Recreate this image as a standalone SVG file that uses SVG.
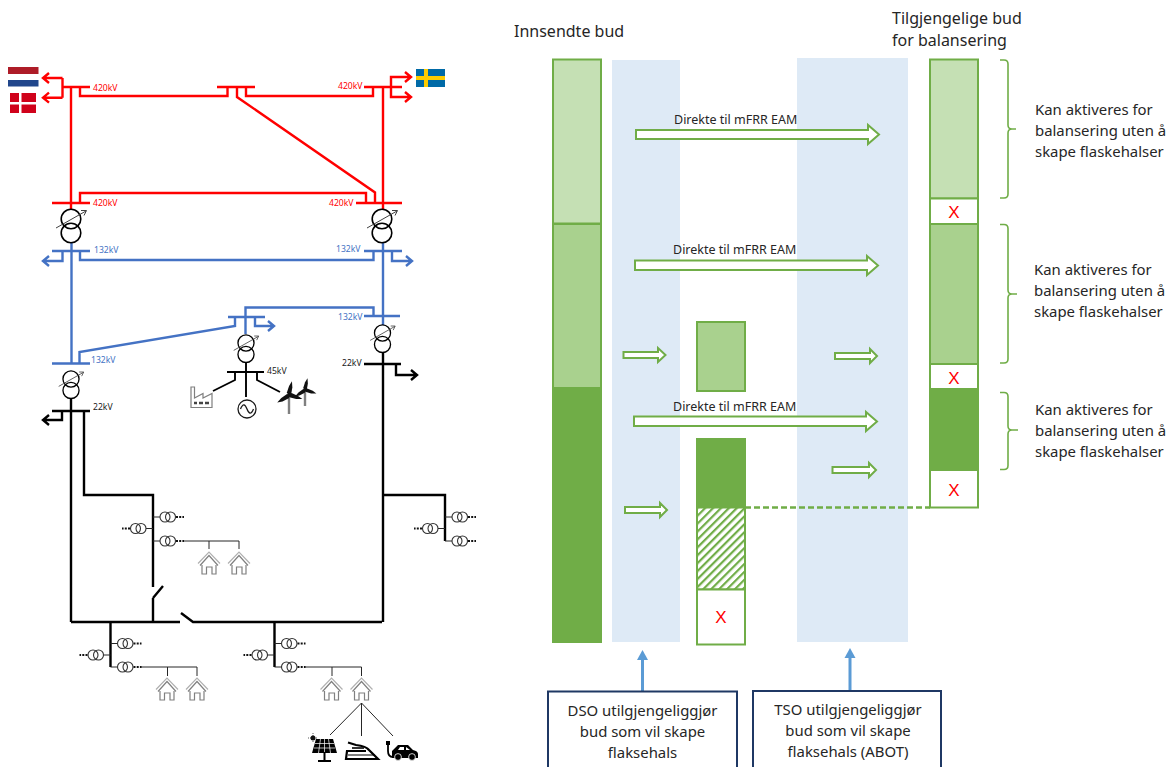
<svg xmlns="http://www.w3.org/2000/svg" width="1173" height="767" viewBox="0 0 1173 767">
<style>
text{font-family:"Noto Sans","Open Sans","Liberation Sans",sans-serif}
.wire{fill:none;stroke-width:2.4;stroke-linejoin:miter}
.red{stroke:#ff0000}.blue{stroke:#4472c4}.blk{stroke:#000}
.thin{fill:none;stroke:#262626;stroke-width:1}
.kv{font-size:8.6px}
.kr{fill:#ff0000}.kb{fill:#4472c4}.kk{fill:#1a1a1a}
.t{font-size:14.9px;fill:#262626}
.h{font-size:16px;fill:#262626}
.d{font-size:12.5px;fill:#262626}
.x{font-size:17px;fill:#ff0000;text-anchor:middle;font-family:"Liberation Sans",sans-serif}
.bar{stroke:#70ad47;stroke-width:2}
.ar{fill:#fff;stroke:#70ad47;stroke-width:2}
.band{fill:#deeaf6}
.box{fill:#fff;stroke:#1f3864;stroke-width:2}
.c{text-anchor:middle}
.up{fill:none;stroke:#5b9bd5;stroke-width:3}
.br{fill:none;stroke:#70ad47;stroke-width:1.6}
</style>
<defs>
<pattern id="hatch" width="5.600" height="5.600" patternUnits="userSpaceOnUse" patternTransform="rotate(45)">
<rect width="5.600" height="5.600" fill="#fff"/><rect width="2.200" height="5.600" fill="#70ad47"/>
</pattern>
<g id="xf" fill="none" stroke="#000" stroke-width="1.6">
<circle cx="0" cy="0" r="9.800"/><circle cx="0" cy="14" r="9.800"/>
<path d="M-15,9 L15,-8 M10,-8.500 L15.500,-8.500 L13,-3.500" stroke="#404040" stroke-width="1"/>
</g>
<g id="dt" fill="none">
<path d="M0,0H7" stroke="#262626" stroke-width="1"/>
<circle cx="12" cy="0" r="5" stroke="#333" stroke-width="1.100"/>
<circle cx="17.500" cy="0" r="5" stroke="#333" stroke-width="1.100"/>
<path d="M23,0H31" stroke="#111" stroke-width="1.800" stroke-dasharray="2 1.200"/>
</g>
<g id="house" fill="none" stroke-linejoin="miter">
<path d="M-11,0.500 L0,-11 L11,0.500" stroke="#b0b0b0" stroke-width="1.200"/>
<path d="M-9,2.500 L0,-7.500 L9,2.500" stroke="#808080" stroke-width="1.200"/>
<path d="M-7,2 V11 H-2.500 V4 H3 V11 H7 V2" stroke="#808080" stroke-width="1.200"/>
</g>
<g id="blade" fill="#111"><path d="M0,1 L-2.500,-2 L-1.500,-9 L0.500,-14 L2,-8 L2,-1Z"/></g>
</defs>
<rect width="1173" height="767" fill="#fff"/>

<g id="band-dso"><rect class="band" x="612" y="60" width="68" height="582"/></g>
<g id="band-tso"><rect class="band" x="797" y="58" width="111" height="584"/></g>

<g id="connectors">
<path class="wire red" d="M62.500,87H90M62.500,78V97.700M62.500,78H44M62.500,97.700H44M49,73L43,78L49,83M49,92.700L43,97.700L49,102.700"/>
<path class="wire red" d="M71,87V203M80,87V96H227.500V87M217,87H255M237,87V97L375,192.500V203M246,87V96H373V87"/>
<path class="wire red" d="M364,87H402M391,87V77H411M391,87V97H411M405,72L411,77L405,82M405,92L411,97L405,102M383,87V203"/>
<path class="wire red" d="M52,203H90M80,203V193H366V203M356,203H402M71,203V209M383,203V209"/>
<path class="wire blue" d="M52,251H90M71.500,243V363.500M62.500,251V261H44M49,256L43,261L49,266M80,251V260H373.500V251M364,251H402M383,243V325M392,251V261H411M406,256L412,261L406,266"/>
<path class="wire blue" d="M364,316H400M373.500,316V307.500H245.500V334M228,317H265M255,317V326H273M268,321L274,326L268,331M235,317V326L79.500,352V363.500M52,363.500H90"/>
<path class="wire blk" d="M52,411H90M71,399V622M62,411V420H44M49,415L43,420L49,425M84,411V495H153V587M153,598L163,586M153,598V622"/>
<path class="wire blk" d="M364,364H401M383,352V622M396,364V375H417M411,370L417,375L411,380"/>
<path class="wire blk" style="stroke-width:1.900" d="M227,372H264M246,362V397M235,372V380L213,391M257,372V380L280,392"/>
<path class="wire blk" d="M71,622H180M181,613L193,622H382M382,495H445V541"/>
<path class="wire blk" d="M110.500,622V667M274.500,622V667"/>
<path class="thin" d="M184,541H239V549M209,541V549M141,667H197V676M167.500,667V676M305,667H361.500V676M332,667V676"/>
<path class="thin" d="M330,735L361.500,703L393,736M361.500,703V736"/>
<path class="up" d="M642.500,691V658"/><path d="M642.500,650L637,660H648Z" fill="#5b9bd5"/>
<path class="up" d="M850,691V656"/><path d="M850,648L844.500,658H855.500Z" fill="#5b9bd5"/>
</g>

<g id="grid-transformers">
<use href="#xf" transform="translate(71,219)"/>
<use href="#xf" transform="translate(382,219)"/>
<use href="#xf" transform="translate(71,379) scale(.82)"/>
<use href="#xf" transform="translate(246,343) scale(.82)"/>
<use href="#xf" transform="translate(382.500,333) scale(.82)"/>
</g>

<g id="distribution-transformers">
<use href="#dt" x="153" y="517"/><use href="#dt" transform="translate(153,528.500) scale(-1,1)"/><use href="#dt" x="153" y="541"/>
<use href="#dt" x="445" y="517"/><use href="#dt" transform="translate(445,528.500) scale(-1,1)"/><use href="#dt" x="445" y="541"/>
<use href="#dt" x="110.500" y="643.500"/><use href="#dt" transform="translate(110.500,655) scale(-1,1)"/><use href="#dt" x="110.500" y="667"/>
<use href="#dt" x="274.500" y="643.500"/><use href="#dt" transform="translate(274.500,655) scale(-1,1)"/><use href="#dt" x="274.500" y="667"/>
</g>

<g id="houses">
<use href="#house" x="209" y="563"/><use href="#house" x="239" y="563"/>
<use href="#house" x="167" y="689"/><use href="#house" x="197" y="689"/>
<use href="#house" x="331.500" y="689"/><use href="#house" x="361.500" y="689"/>
</g>

<g id="generator" fill="none" stroke="#1a1a1a" stroke-width="1.300">
<circle cx="247" cy="409" r="9"/><path d="M240.500,409C243,403 245,404 247,409S251,415 253.500,409"/>
</g>
<g id="factory" fill="none" stroke="#7f7f7f" stroke-width="1.200">
<path d="M191,407.500V387H194.500V398L203,393.500V398L212,393.500V407.500Z"/>
<path d="M194,403H197M199,403H203M205,403H209" stroke="#444" stroke-width="2.400"/>
</g>
<g id="wind">
<path d="M289,396V414M305,391V406" stroke="#808080" stroke-width="2.400"/>
<use href="#blade" transform="translate(289,395) rotate(10)"/>
<use href="#blade" transform="translate(289,395) rotate(105)"/>
<use href="#blade" transform="translate(289,395) rotate(235)"/>
<use href="#blade" transform="translate(305,390) scale(.85) rotate(10)"/>
<use href="#blade" transform="translate(305,390) scale(.85) rotate(105)"/>
<use href="#blade" transform="translate(305,390) scale(.85) rotate(235)"/>
</g>
<g id="solar">
<circle cx="313" cy="738" r="2.500" fill="#111"/>
<path d="M313,733V743M308,738H318" stroke="#111" stroke-width=".7" stroke-dasharray="1 1"/>
<path d="M316,739H333L337,753H312Z" fill="#000"/>
<path d="M324.500,739V753M320.500,739L318.500,753M328.500,739L330.500,753M315,743.500H334M314,748H335" stroke="#fff" stroke-width=".7"/>
<path d="M324.500,752V760M318,761H331" stroke="#000" stroke-width="2"/>
</g>
<g id="iron">
<path d="M348,742.500L356,745Q366,746 369,750L378,759H346L347,751H366" fill="none" stroke="#000" stroke-width="2.200"/>
<path d="M348,755H375" fill="none" stroke="#000" stroke-width="1"/>
<path d="M352,748H364" stroke="#000" stroke-width="1.600"/>
</g>
<g id="car">
<path d="M388,743V751Q388,757 393,757" fill="none" stroke="#000" stroke-width="1.800"/>
<rect x="386" y="741" width="4" height="4" fill="#000"/>
<path d="M392,758V751L398,745H408L413,750Q418,751 418,754V758Z" fill="#000"/>
<path d="M398,750L400,747H404V750ZM406,747L410,750H406Z" fill="#fff"/>
<circle cx="398" cy="757" r="3.400" fill="#000" stroke="#fff" stroke-width=".8"/>
<circle cx="412" cy="757" r="3.400" fill="#000" stroke="#fff" stroke-width=".8"/>
</g>

<g id="flag-nl"><rect x="8" y="67" width="30.500" height="7" fill="#ae1c28"/><rect x="8" y="80" width="30.500" height="6.500" fill="#21468b"/></g>
<g id="flag-dk"><rect x="10" y="93" width="26" height="20" fill="#d0021b"/><rect x="19" y="93" width="2.500" height="20" fill="#fff"/><rect x="10" y="102" width="26" height="2.500" fill="#fff"/></g>
<g id="flag-se"><rect x="416" y="69" width="29" height="18" fill="#006aa7"/><rect x="424" y="69" width="4" height="18" fill="#fecc00"/><rect x="416" y="76" width="29" height="4" fill="#fecc00"/></g>

<g id="voltage-labels">
<text class="kv kr" x="93" y="91">420kV</text><text class="kv kr" x="338" y="89">420kV</text>
<text class="kv kr" x="93" y="206">420kV</text><text class="kv kr" x="329" y="206">420kV</text>
<text class="kv kb" x="94" y="253">132kV</text><text class="kv kb" x="336" y="252">132kV</text>
<text class="kv kb" x="338" y="320">132kV</text><text class="kv kb" x="91" y="363">132kV</text>
<text class="kv kk" x="93" y="410">22kV</text><text class="kv kk" x="342" y="366">22kV</text><text class="kv kk" x="267" y="374">45kV</text>
</g>

<g id="bar-submitted">
<rect class="bar" x="553" y="59.500" width="48" height="164" fill="#c5e0b4"/>
<rect class="bar" x="553" y="224" width="48" height="164" fill="#a9d18e"/>
<rect x="552" y="388" width="50" height="255" fill="#70ad47"/>
</g>
<g id="dashed-link"><path d="M745,507.500H930" fill="none" stroke="#70ad47" stroke-width="2.400" stroke-dasharray="6 3"/></g>
<g id="bar-middle">
<rect class="bar" x="697" y="322" width="48" height="69" fill="#a9d18e"/>
<rect x="696" y="438" width="50" height="70" fill="#70ad47"/>
<rect class="bar" x="697" y="507.500" width="48" height="82" fill="url(#hatch)"/>
<rect class="bar" x="697" y="589.500" width="48" height="55" fill="#fff"/>
<text class="x" x="721" y="623">X</text>
</g>
<g id="bar-available">
<rect class="bar" x="930" y="59.500" width="48" height="139" fill="#c5e0b4"/>
<rect class="bar" x="930" y="198.500" width="48" height="25.500" fill="#fff"/>
<rect class="bar" x="930" y="224" width="48" height="140" fill="#a9d18e"/>
<rect class="bar" x="930" y="364" width="48" height="25" fill="#fff"/>
<rect class="bar" x="930" y="470" width="48" height="37.500" fill="#fff"/>
<rect x="929" y="389" width="50" height="81" fill="#70ad47"/>
<text class="x" x="954" y="218">X</text><text class="x" x="954" y="384">X</text><text class="x" x="954" y="496">X</text>
</g>

<g id="arrows-direct">
<polygon class="ar" points="636,130 868,130 868,125 879,134.500 868,144 868,139 636,139"/>
<polygon class="ar" points="635,260.500 867,260.500 867,256 878,265.500 867,275 867,270 635,270"/>
<polygon class="ar" points="634,416.500 866,416.500 866,412 877,421.500 866,431 866,426 634,426"/>
<polygon class="ar" points="623.500,352 658,352 658,348 665.500,355 658,362 658,358 623.500,358"/>
<polygon class="ar" points="835,353 870,353 870,349 877,356 870,363 870,359 835,359"/>
<polygon class="ar" points="832.500,467 869,467 869,463 876,470 869,477 869,473 832.500,473"/>
<polygon class="ar" points="625,507 660,507 660,503 667,510 660,517 660,513 625,513"/>
</g>
<g id="arrow-labels">
<text class="d" x="674" y="124">Direkte til mFRR EAM</text>
<text class="d" x="673" y="254">Direkte til mFRR EAM</text>
<text class="d" x="673" y="411">Direkte til mFRR EAM</text>
</g>

<g id="headers">
<text class="h" x="514" y="37">Innsendte bud</text>
<text class="h" x="892" y="24">Tilgjengelige bud</text>
<text class="h" x="892" y="46">for balansering</text>
</g>

<g id="braces">
<path class="br" d="M1000,60H1004Q1008,60 1008,64V125Q1008,129 1012,129H1016M1012,129Q1008,129 1008,133V194Q1008,198 1004,198H1000"/>
<path class="br" d="M1000,224.500H1004Q1008,224.500 1008,228.500V290Q1008,294 1012,294H1017M1012,294Q1008,294 1008,298V359Q1008,363 1004,363H1000"/>
<path class="br" d="M1000,392.500H1004Q1008,392.500 1008,396.500V426Q1008,430 1012,430H1018M1012,430Q1008,430 1008,434V465.500Q1008,469.500 1004,469.500H1000"/>
</g>
<g id="note-1"><text class="t" x="1035" y="115">Kan aktiveres for</text><text class="t" x="1035" y="136">balansering uten å</text><text class="t" x="1035" y="157">skape flaskehalser</text></g>
<g id="note-2"><text class="t" x="1034" y="275">Kan aktiveres for</text><text class="t" x="1034" y="296">balansering uten å</text><text class="t" x="1034" y="317">skape flaskehalser</text></g>
<g id="note-3"><text class="t" x="1035" y="415">Kan aktiveres for</text><text class="t" x="1035" y="436">balansering uten å</text><text class="t" x="1035" y="457">skape flaskehalser</text></g>

<g id="box-dso">
<rect class="box" x="548" y="691.500" width="189" height="90"/>
<text class="t c" x="642.500" y="716">DSO utilgjengeliggjør</text>
<text class="t c" x="642.500" y="737">bud som vil skape</text>
<text class="t c" x="642.500" y="758">flaksehals</text>
</g>
<g id="box-tso">
<rect class="box" x="753" y="691" width="188" height="90"/>
<text class="t c" x="848" y="715">TSO utilgjengeliggjør</text>
<text class="t c" x="848" y="736">bud som vil skape</text>
<text class="t c" x="848" y="757">flaksehals (ABOT)</text>
</g>
</svg>
